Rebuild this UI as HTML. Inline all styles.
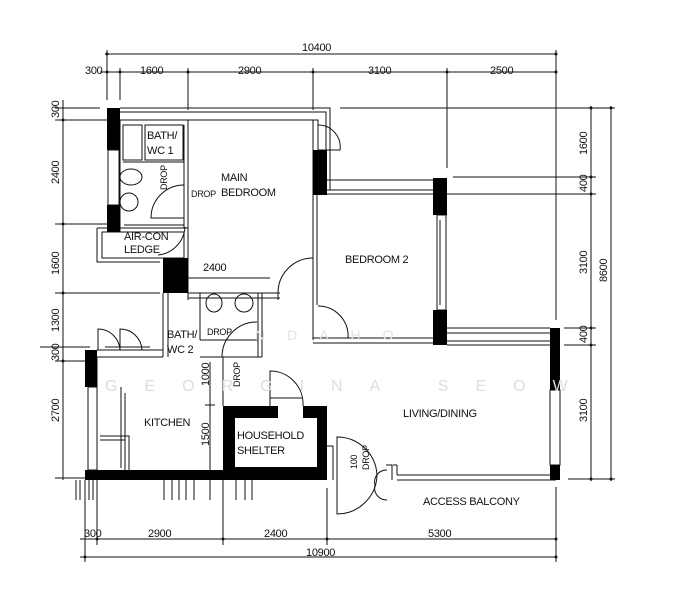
<!DOCTYPE html>
<html><head><meta charset="utf-8"><style>
html,body{margin:0;padding:0;background:#fff}
svg{display:block}
text{font-family:"Liberation Sans",sans-serif;font-size:11px;fill:#111;letter-spacing:-0.3px}
</style></head><body>
<svg width="681" height="600" viewBox="0 0 681 600" xmlns="http://www.w3.org/2000/svg">
<g stroke="#111" stroke-width="1" fill="none">
<line x1="105" y1="54" x2="557" y2="54"/>
<line x1="100" y1="72" x2="557" y2="72"/>
<line x1="107" y1="50" x2="107" y2="100"/>
<line x1="120" y1="68" x2="120" y2="100"/>
<line x1="188" y1="68" x2="188" y2="110"/>
<line x1="313" y1="68" x2="313" y2="110"/>
<line x1="447" y1="68" x2="447" y2="168"/>
<line x1="556" y1="50" x2="556" y2="320"/>
<line x1="63" y1="100" x2="63" y2="480"/>
<line x1="55" y1="108" x2="100" y2="108"/>
<line x1="55" y1="120" x2="107" y2="120"/>
<line x1="55" y1="224" x2="107" y2="224"/>
<line x1="55" y1="293" x2="160" y2="293"/>
<line x1="40" y1="347" x2="90" y2="347"/>
<line x1="55" y1="361" x2="85" y2="361"/>
<line x1="55" y1="478" x2="85" y2="478"/>
<line x1="340" y1="108" x2="615" y2="108"/>
<line x1="453" y1="177" x2="596" y2="177"/>
<line x1="447" y1="194" x2="596" y2="194"/>
<line x1="564" y1="328" x2="596" y2="328"/>
<line x1="564" y1="345" x2="596" y2="345"/>
<line x1="568" y1="479" x2="615" y2="479"/>
<line x1="591" y1="106" x2="591" y2="481"/>
<line x1="611" y1="106" x2="611" y2="481"/>
<line x1="80" y1="539" x2="557" y2="539"/>
<line x1="80" y1="557" x2="557" y2="557"/>
<line x1="85" y1="480" x2="85" y2="562"/>
<line x1="97" y1="480" x2="97" y2="545"/>
<line x1="223" y1="480" x2="223" y2="545"/>
<line x1="327" y1="488" x2="327" y2="545"/>
<line x1="556" y1="487" x2="556" y2="562"/>
<path d="M76 480V500M80 480V500M89 480V500M93 480V500M164 480V500M172 480V500M179 480V500M186 480V500M194 480V500M210 480V500M236 480V500M245 480V500M252 480V500"/>
</g>
<g fill="#111">
<circle cx="107" cy="72" r="1.5"/><circle cx="120" cy="72" r="1.5"/><circle cx="188" cy="72" r="1.5"/><circle cx="313" cy="72" r="1.5"/><circle cx="447" cy="72" r="1.5"/><circle cx="556" cy="72" r="1.5"/><circle cx="556" cy="54" r="1.5"/><circle cx="107" cy="54" r="1.5"/>
<circle cx="63" cy="120" r="1.5"/><circle cx="63" cy="224" r="1.5"/><circle cx="63" cy="293" r="1.5"/><circle cx="63" cy="361" r="1.5"/>
<circle cx="591" cy="108" r="1.5"/><circle cx="591" cy="177" r="1.5"/><circle cx="591" cy="194" r="1.5"/><circle cx="591" cy="328" r="1.5"/><circle cx="591" cy="345" r="1.5"/><circle cx="591" cy="479" r="1.5"/><circle cx="611" cy="108" r="1.5"/><circle cx="611" cy="479" r="1.5"/>
<circle cx="97" cy="539" r="1.5"/><circle cx="223" cy="539" r="1.5"/><circle cx="327" cy="539" r="1.5"/><circle cx="556" cy="539" r="1.5"/><circle cx="85" cy="557" r="1.5"/><circle cx="556" cy="557" r="1.5"/>
</g>
<g stroke="#111" stroke-width="1" fill="none">
<path d="M120 108H330V180M120 112H326V180M120 120H318V150"/>
<path d="M326 180H435M330 180V190M318 190H435M318 194H435"/>
<path d="M313 120V340M317 195V305"/>
<path d="M120 120V232M188 120V300M184 125V228M145 125H183V160H145ZM123 125H142V160H123ZM123 162H184M124 225H184"/>
<ellipse cx="131" cy="177" rx="11" ry="8"/><ellipse cx="129" cy="202" rx="9" ry="9"/>
<path d="M184 185A33 33 0 0 0 151 218H184"/>
<path d="M97 228H188V262H163M97 228V262H160M102 232H184V258H102Z"/>
<path d="M185 227A30 30 0 0 1 158 255"/>
<path d="M188 293H280M188 298H280M278 300V293A35 35 0 0 1 313 258"/>
<path d="M318 125A22 22 0 0 1 340 150H318"/>
<path d="M313 338H435M313 343H435M348 338A30 30 0 0 0 318 306"/>
<path d="M437 215H446V310H437ZM440 220V305"/>
<path d="M447 328H550M447 333H550M447 341H550M447 345H550"/>
<path d="M550 390H560V465H550Z"/>
<path d="M397 475H556M397 480H556M397 465V475M393 465H397"/>
<path d="M163 293V357M168 293V357M200 293V340M262 293V357M258 293V357M200 340H258M200 357H262"/>
<ellipse cx="214" cy="303" rx="8" ry="9"/><ellipse cx="244" cy="303" rx="9" ry="9"/>
<path d="M222 357A35 35 0 0 1 257 322"/>
<path d="M97 350H163M97 357H163M105 347H150M98 350V329A22 22 0 0 1 120 350M120 350V329A22 22 0 0 1 142 350"/>
<path d="M97 357V470M223 357V406M121 387V468M125 393V465M100 440H125V470M100 436H129V470"/>
<path d="M210 362V470M205 405H215"/>
<path d="M270 406V371A33 33 0 0 1 303 406M270 398H303"/>
<path d="M337 474V437A40 40 0 0 1 377 475A40 40 0 0 1 337 514V474"/>
<path d="M327 446H333V480M386 465H392V480"/>
<path d="M375 485A12 12 0 0 1 387 470M375 485A12 12 0 0 0 387 500"/>
</g>
<g fill="#000">
<rect x="107" y="108" width="13" height="42"/>
<rect x="107" y="205" width="13" height="27"/>
<rect x="163" y="258" width="25" height="35"/>
<rect x="313" y="150" width="14" height="45"/>
<rect x="433" y="178" width="14" height="37"/>
<rect x="433" y="310" width="14" height="35"/>
<rect x="550" y="328" width="10" height="62"/>
<rect x="550" y="465" width="10" height="15"/>
<rect x="85" y="350" width="12" height="37"/>
<rect x="85" y="470" width="242" height="10"/>
<rect x="223" y="406" width="104" height="74"/>
</g>
<rect x="235" y="418" width="82" height="49" fill="#fff"/>
<rect x="278" y="406" width="25" height="12" fill="#fff"/>
<rect x="88" y="387" width="9" height="83" fill="#fff" stroke="#111"/>
<rect x="108" y="150" width="11" height="55" fill="#fff" stroke="#111"/>
<text x="302" y="51">10400</text>
<text x="85" y="74">300</text><text x="140" y="74">1600</text><text x="238" y="74">2900</text><text x="368" y="74">3100</text><text x="490" y="74">2500</text>
<g>
<text transform="translate(59,118) rotate(-90)">300</text>
<text transform="translate(59,184) rotate(-90)">2400</text>
<text transform="translate(59,275) rotate(-90)">1600</text>
<text transform="translate(59,332) rotate(-90)">1300</text>
<text transform="translate(59,361) rotate(-90)">300</text>
<text transform="translate(59,422) rotate(-90)">2700</text>
<text transform="translate(587,155) rotate(-90)">1600</text>
<text transform="translate(587,192) rotate(-90)">400</text>
<text transform="translate(587,274) rotate(-90)">3100</text>
<text transform="translate(587,343) rotate(-90)">400</text>
<text transform="translate(587,422) rotate(-90)">3100</text>
<text transform="translate(607,282) rotate(-90)">8600</text>
<text transform="translate(209,386) rotate(-90)">1000</text>
<text transform="translate(209,446) rotate(-90)">1500</text>
<text transform="translate(167,190) rotate(-90)" style="font-size:9px">DROP</text>
<text transform="translate(240,387) rotate(-90)" style="font-size:9px">DROP</text>
<text transform="translate(357,469) rotate(-90)" style="font-size:9px">100</text>
<text transform="translate(369,470) rotate(-90)" style="font-size:9px">DROP</text>
</g>
<text x="84" y="537">300</text><text x="148" y="537">2900</text><text x="264" y="537">2400</text><text x="428" y="537">5300</text><text x="306" y="556">10900</text>
<text x="147" y="139">BATH/</text><text x="147" y="154">WC 1</text>
<text x="191" y="197" style="font-size:9px">DROP</text>
<text x="221" y="181">MAIN</text><text x="221" y="196">BEDROOM</text>
<text x="124" y="240">AIR-CON</text><text x="124" y="253">LEDGE</text>
<text x="203" y="271">2400</text>
<path d="M188 278H270" stroke="#111"/>
<text x="345" y="263">BEDROOM 2</text>
<text x="167" y="338">BATH/</text><text x="167" y="353">WC 2</text>
<text x="207" y="335" style="font-size:9px">DROP</text>
<text x="144" y="426">KITCHEN</text>
<text x="237" y="439">HOUSEHOLD</text><text x="237" y="454">SHELTER</text>
<text x="403" y="417">LIVING/DINING</text>
<text x="423" y="505">ACCESS BALCONY</text>
<text x="105" y="391" style="fill:#ddd;font-size:16px;letter-spacing:27px">GEORGINA SEOW</text>
<text x="255" y="340" style="fill:#e2e2e2;font-size:14px;letter-spacing:22px">NDAHO</text>
</svg>
</body></html>
